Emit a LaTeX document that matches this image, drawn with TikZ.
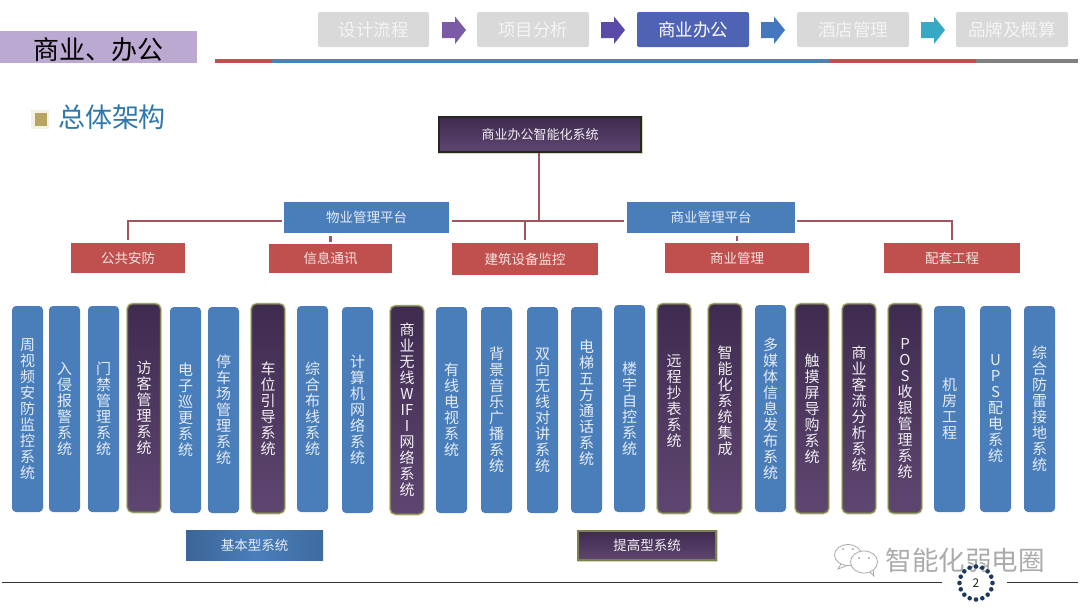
\documentclass[tikz,border=0pt]{standalone}
\usepackage{fontspec}
\setmainfont{Noto Sans CJK SC}
\definecolor{cblue}{HTML}{4A7EBB}
\definecolor{cbluetxt}{HTML}{E4ECF6}
\definecolor{cred}{HTML}{C0504D}
\definecolor{credtxt}{HTML}{F6E4E2}
\definecolor{clink}{HTML}{A05560}
\definecolor{cdark}{HTML}{3F2B50}
\definecolor{cdarkb}{HTML}{5E4670}
\definecolor{cdarkm}{HTML}{47325A}
\definecolor{colive}{HTML}{7E8050}
\definecolor{cglow}{HTML}{D6DAB0}
\definecolor{ctab}{HTML}{D9D9D9}
\definecolor{ctabtxt}{HTML}{F4F4F4}
\definecolor{cnow}{HTML}{4F63B5}
\definecolor{clav}{HTML}{BCA9D1}
\definecolor{ctitle}{HTML}{2E78AC}
\definecolor{cnavy}{HTML}{1F3A5F}
\definecolor{cwm}{HTML}{ABABAB}
\definecolor{carra}{HTML}{7B5AA6}
\definecolor{carrb}{HTML}{5B4BA8}
\definecolor{carrc}{HTML}{4577BE}
\definecolor{carrd}{HTML}{38A9C4}
\definecolor{cgold}{HTML}{B8A562}
\definecolor{cbul}{HTML}{F3F0E4}
\definecolor{crule}{HTML}{4F81B0}
\definecolor{cgrey}{HTML}{808080}
\tikzset{
  colblue/.style={rounded corners=4pt,fill=cblue,text=cbluetxt,inner sep=0pt,align=center,font=\fontsize{15}{16}\selectfont},
  coldark/.style={rounded corners=5pt,preaction={draw=cglow,line width=3pt},draw=colive,line width=1.2pt,top color=cdark,middle color=cdarkm,bottom color=cdarkb,text=white!92!cdark,inner sep=0pt,align=center,font=\fontsize{15}{16}\selectfont},
  redbox/.style={fill=cred,text=credtxt,inner sep=0pt,font=\fontsize{13.5}{16}\selectfont},
  platbox/.style={fill=cblue,text=cbluetxt,inner sep=0pt,font=\fontsize{13.5}{16}\selectfont},
  link/.style={draw=clink,line width=2.8pt},
  tabbox/.style={rounded corners=2pt,fill=ctab,text=ctabtxt,inner sep=0pt,font=\fontsize{17.5}{19}\selectfont},
  tabnow/.style={rounded corners=2pt,fill=cnow,text=white,inner sep=0pt,font=\fontsize{17.5}{19}\selectfont}
}
\newcommand{\boxat}[7]{\node[#2,minimum width={(#4-#3)*1pt},minimum height={(#6-#5)*1pt}] (#1) at ({(#3+#4)/2},{(#5+#6)/2}) {#7};}
\newcommand{\arrowat}[2]{\fill[#2] (#1,22) -- ({#1+13},22) -- ({#1+13},16.5) -- ({#1+24},30) -- ({#1+13},44) -- ({#1+13},38) -- (#1,38) -- cycle;}
\begin{document}
\begin{tikzpicture}[x=1pt,y=-1pt]
\useasboundingbox (0,0) rectangle (1080,608);
\fill[white] (0,0) rectangle (1080,608);
% header tabs
\boxat{t1}{tabbox}{318}{429}{12}{47}{设计流程}
\boxat{t2}{tabbox}{477}{589}{12}{47}{项目分析}
\boxat{t3}{tabnow}{637}{749}{12}{47}{商业办公}
\boxat{t4}{tabbox}{797}{909}{12}{47}{酒店管理}
\boxat{t5}{tabbox}{956}{1068}{12}{47}{品牌及概算}
\arrowat{442}{carra}
\arrowat{601}{carrb}
\arrowat{761}{carrc}
\arrowat{921}{carrd}
% header rule
\fill[cred] (215,59) rectangle (272,63);
\fill[crule] (272,59) rectangle (830,63);
\fill[cred] (830,59) rectangle (976,63);
\fill[cgrey] (976,59) rectangle (1078,63);
% section title
\fill[clav] (0,31) rectangle (197,63);
\node[inner sep=0pt,text=black,font=\fontsize{26}{28}\selectfont] (sec) at (99,50) {商业、办公};
% subtitle
\fill[cbul] (31,110) rectangle (49,129);
\fill[cgold] (35,113) rectangle (47,126);
\node[inner sep=0pt,text=ctitle,font=\fontsize{27}{29}\selectfont] (sub) at (112,117) {总体架构};
% tree
\boxat{top}{coldark,rounded corners=0pt,preaction={draw=none},draw=black!85,font=\fontsize{13}{15}\selectfont}{439}{641}{117}{152}{商业办公智能化系统}
\boxat{wy}{platbox}{284}{449}{202}{233}{物业管理平台}
\boxat{sy}{platbox}{627}{795}{202}{233}{商业管理平台}
\boxat{ga}{redbox}{71}{185}{243}{273}{公共安防}
\boxat{xx}{redbox}{269}{392}{244}{273}{信息通讯}
\boxat{jz}{redbox}{452}{598}{243}{275}{建筑设备监控}
\boxat{sg}{redbox}{665}{809}{243}{273}{商业管理}
\boxat{pt}{redbox}{884}{1020}{243}{273}{配套工程}
\coordinate (hub) at (539,221);
\draw[link] (hub |- top.south) -- (hub);
\draw[link,shorten <=3pt,shorten >=3pt] (wy.east |- hub) -- (sy.west |- hub);
\draw[link,shorten >=3pt] (jz.north |- hub) -- (jz.north);
\draw[link,shorten <=2pt,shorten >=3pt] (wy.west |- hub) -| (ga.north);
\draw[link,shorten <=2pt,shorten >=3pt] (sy.east |- hub) -| (pt.north);
\draw[link,shorten <=3pt,shorten >=2pt] (xx.north |- wy.south) -- (xx.north);
\draw[link,shorten <=3pt,shorten >=2pt] (sg.north |- sy.south) -- (sg.north);
% columns
\boxat{c1}{colblue}{12}{43}{306}{512}{周\\视\\频\\安\\防\\监\\控\\系\\统}
\boxat{c2}{colblue}{49}{80}{306}{512}{入\\侵\\报\\警\\系\\统}
\boxat{c3}{colblue}{88}{119}{306}{512}{门\\禁\\管\\理\\系\\统}
\boxat{c4}{coldark}{127.5}{160.5}{304}{512}{访\\客\\管\\理\\系\\统}
\boxat{c5}{colblue}{170}{201}{307}{513}{电\\子\\巡\\更\\系\\统}
\boxat{c6}{colblue}{208}{239}{307}{513}{停\\车\\场\\管\\理\\系\\统}
\boxat{c7}{coldark}{251.5}{284.5}{304}{513}{车\\位\\引\\导\\系\\统}
\boxat{c8}{colblue}{297}{328}{306}{512}{综\\合\\布\\线\\系\\统}
\boxat{c9}{colblue}{342}{373}{307}{513}{计\\算\\机\\网\\络\\系\\统}
\boxat{c10}{coldark}{390.5}{423.5}{306}{514}{商\\业\\无\\线\\W\\IF\\I\\网\\络\\系\\统}
\boxat{c11}{colblue}{436}{467}{307}{513}{有\\线\\电\\视\\系\\统}
\boxat{c12}{colblue}{481}{512}{307}{513}{背\\景\\音\\乐\\广\\播\\系\\统}
\boxat{c13}{colblue}{527}{558}{307}{513}{双\\向\\无\\线\\对\\讲\\系\\统}
\boxat{c14}{colblue}{571}{602}{307}{513}{电\\梯\\五\\方\\通\\话\\系\\统\\\mbox{}}
\boxat{c15}{colblue}{614}{645}{305}{512}{楼\\宇\\自\\控\\系\\统}
\boxat{c16}{coldark}{657.5}{690.5}{304}{513}{远\\程\\抄\\表\\系\\统\\\mbox{}}
\boxat{c17}{coldark}{708.5}{741.5}{304}{513}{智\\能\\化\\系\\统\\集\\成\\\mbox{}}
\boxat{c18}{colblue}{755}{786}{305}{512}{多\\媒\\体\\信\\息\\发\\布\\系\\统}
\boxat{c19}{coldark}{795.5}{828.5}{304}{513}{触\\摸\\屏\\导\\购\\系\\统}
\boxat{c20}{coldark}{842.5}{875.5}{304}{513}{商\\业\\客\\流\\分\\析\\系\\统}
\boxat{c21}{coldark}{888.5}{921.5}{304}{513}{P\\O\\S\\收\\银\\管\\理\\系\\统}
\boxat{c22}{colblue}{934}{965}{306}{512}{机\\房\\工\\程}
\boxat{c23}{colblue}{980}{1011}{306}{512}{U\\P\\S\\配\\电\\系\\统}
\boxat{c24}{colblue}{1024}{1055}{306}{512}{综\\合\\防\\雷\\接\\地\\系\\统}
% legend
\boxat{k1}{left color=cblue!80!black,right color=cblue!85!black,middle color=cblue,text=cbluetxt,inner sep=0pt,font=\fontsize{13.5}{16}\selectfont}{186}{323}{530}{560}{基本型系统}
\boxat{k2}{coldark,rounded corners=0pt,font=\fontsize{13.5}{16}\selectfont}{578}{716}{531}{560}{提高型系统}
% footer
\coordinate (fa) at (2,582);
\coordinate (fb) at (942,582);
\coordinate (fc) at (1007,582);
\coordinate (fd) at (1078,582);
\draw[black!80,line width=1pt] (fa) -- (fb);
\draw[black!80,line width=1pt] (fc) -- (fd);
% watermark
\node[inner sep=0pt,text=cwm,font=\fontsize{26.5}{28}\selectfont] (wm) at (965,560) {智能化弱电圈};
\filldraw[draw=cwm,fill=white,line width=.8pt] (848,555) ellipse (13.5 and 10.5);
\draw[cwm,line width=.8pt] (841,564) -- (838,569) -- (846,566);
\filldraw[draw=cwm,fill=white,line width=.8pt] (864,562) ellipse (13.5 and 11);
\draw[cwm,line width=.8pt] (870,572) -- (874,576) -- (873,570);
\foreach \p in {(843,549),(853,549),(859,558),(869,558)} \fill[cwm] \p circle (1.1);
% page number
\foreach \a in {0,22.5,...,337.5} \fill[cnavy] (976,583) ++(\a:16.5) circle (2.3);
\node[inner sep=0pt,text=black!85,font=\fontsize{12}{14}\selectfont] (pg) at (976,583) {2};
\end{tikzpicture}
\end{document}
